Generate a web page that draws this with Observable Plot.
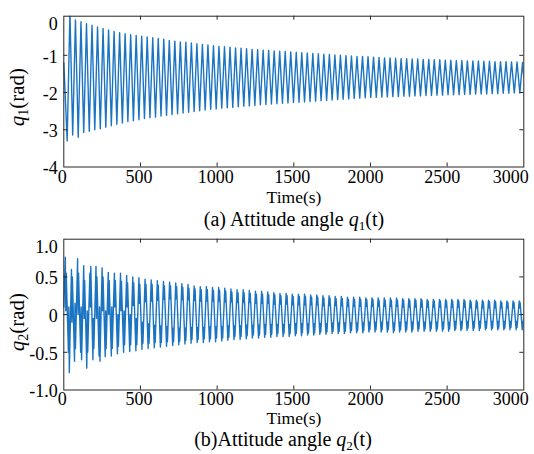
<!DOCTYPE html>
<html><head><meta charset="utf-8">
<script src="https://cdn.jsdelivr.net/npm/d3@7"></script>
<script src="https://cdn.jsdelivr.net/npm/@observablehq/plot@0.6"></script>
<style>
html,body{margin:0;background:#fff;}
#wrap{position:relative;width:534px;height:454px;overflow:hidden;background:#fff;}
</style></head><body><div id="wrap"></div>
<script>
// ---------- data ----------
const xTicks = [0,500,1000,1500,2000,2500,3000];
const xTickLabels = ["0","500","1000","1500","2000","2500","3000"];
const q1Ticks = [0,-1,-2,-3,-4];
const q1TickLabels = ["0","-1","-2","-3","-4"];
const q2Ticks = [1,0.5,0,-0.5,-1];
const q2TickLabels = ["1.0","0.5","0","-0.5","-1.0"];
const xLabel = "Time(s)";
const captionA = [["(a) Attitude angle ",""],["q","i"],["1","sub"],["(t)","back"]];
const captionB = [["(b)Attitude angle ",""],["q","i"],["2","sub"],["(t)","back"]];
const yLabelA = [["q","i"],["1","sub"],["(rad)","back"]];
const yLabelB = [["q","i"],["2","sub"],["(rad)","back"]];

// q1(t): turning points of the oscillation
const q1EndTime = [0,3000];
const q1EndValue = [-1.2,-1.6];
const q1PeakTime = [40,76,112,148,184,220,256,292,328,364,400,436,472,508,544,580,616,652,688,724,760,796,832,868,904,940,976,1012,1048,1084,1120,1156,1192,1228,1264,1300,1336,1372,1408,1444,1480,1516,1552,1588,1624,1660,1696,1732,1768,1804,1840,1876,1912,1948,1984,2020,2056,2092,2128,2164,2200,2236,2272,2308,2344,2380,2416,2452,2488,2524,2560,2596,2632,2668,2704,2740,2776,2812,2848,2884,2920,2956,2992];
const q1PeakValue = [0.15,-0.05,-0.1,-0.15,-0.19,-0.24,-0.28,-0.32,-0.36,-0.39,
-0.42,-0.45,-0.47,-0.49,-0.51,-0.53,-0.55,-0.57,-0.6,-0.62,
-0.64,-0.65,-0.67,-0.69,-0.71,-0.72,-0.74,-0.76,-0.77,-0.78,
-0.8,-0.81,-0.82,-0.84,-0.85,-0.86,-0.87,-0.88,-0.89,-0.9,
-0.91,-0.92,-0.93,-0.94,-0.95,-0.96,-0.97,-0.98,-0.99,-1.0,
-1.01,-1.02,-1.03,-1.03,-1.04,-1.05,-1.06,-1.07,-1.07,-1.08,
-1.09,-1.09,-1.1,-1.1,-1.11,-1.11,-1.12,-1.12,-1.13,-1.13,
-1.14,-1.14,-1.15,-1.15,-1.15,-1.16,-1.16,-1.17,-1.17,-1.17,
-1.18,-1.18,-1.19];
const q1TroughTime = [22,58,94,130,166,202,238,274,310,346,382,418,454,490,526,562,598,634,670,706,742,778,814,850,886,922,958,994,1030,1066,1102,1138,1174,1210,1246,1282,1318,1354,1390,1426,1462,1498,1534,1570,1606,1642,1678,1714,1750,1786,1822,1858,1894,1930,1966,2002,2038,2074,2110,2146,2182,2218,2254,2290,2326,2362,2398,2434,2470,2506,2542,2578,2614,2650,2686,2722,2758,2794,2830,2866,2902,2938,2974];
const q1TroughValue = [-3.3,-3.14,-3.2,-3.07,-3.04,-3.0,-2.97,-2.93,-2.89,-2.85,
-2.82,-2.78,-2.76,-2.73,-2.7,-2.68,-2.66,-2.63,-2.61,-2.59,
-2.57,-2.55,-2.53,-2.51,-2.49,-2.47,-2.45,-2.44,-2.42,-2.41,
-2.4,-2.38,-2.37,-2.36,-2.35,-2.33,-2.32,-2.31,-2.3,-2.29,
-2.28,-2.27,-2.26,-2.25,-2.24,-2.23,-2.22,-2.21,-2.2,-2.19,
-2.18,-2.17,-2.16,-2.15,-2.14,-2.13,-2.13,-2.12,-2.12,-2.11,
-2.11,-2.1,-2.1,-2.09,-2.09,-2.08,-2.08,-2.07,-2.07,-2.06,
-2.06,-2.06,-2.05,-2.05,-2.04,-2.04,-2.04,-2.03,-2.03,-2.02,
-2.02,-2.01,-2.01];

// q2(t): turning points (double-topped peaks and troughs)
const q2Time = [0,
10,13,16,30,33,36, 50,53,56,70,73,76, 90,93,96,110,113,116, 130,133,136,150,153,156,
170,173,176,190,193,196, 210,213,216,230,233,236, 250,253,256,270,273,276, 290,293,296,310,313,316,
330,333,336,350,353,356, 370,373,376,390,393,396, 410,413,416,430,433,436, 450,453,456,470,473,476,
490,493,496,510,513,516, 530,533,536,550,553,556, 570,573,576,590,593,596, 610,613,616,630,633,636,
650,653,656,670,673,676, 690,693,696,710,713,716, 730,733,736,750,753,756, 770,773,776,790,793,796,
810,813,816,830,833,836, 850,853,856,870,873,876, 890,893,896,910,913,916, 930,933,936,950,953,956,
970,973,976,990,993,996, 1010,1013,1016,1030,1033,1036, 1050,1053,1056,1070,1073,1076, 1090,1093,1096,1110,1113,1116,
1130,1133,1136,1150,1153,1156, 1170,1173,1176,1190,1193,1196, 1210,1213,1216,1230,1233,1236, 1250,1253,1256,1270,1273,1276,
1290,1293,1296,1310,1313,1316, 1330,1333,1336,1350,1353,1356, 1370,1373,1376,1390,1393,1396, 1410,1413,1416,1430,1433,1436,
1450,1453,1456,1470,1473,1476, 1490,1493,1496,1510,1513,1516, 1530,1533,1536,1550,1553,1556, 1570,1573,1576,1590,1593,1596,
1610,1613,1616,1630,1633,1636, 1650,1653,1656,1670,1673,1676, 1690,1693,1696,1710,1713,1716, 1730,1733,1736,1750,1753,1756,
1770,1773,1776,1790,1793,1796, 1810,1813,1816,1830,1833,1836, 1850,1853,1856,1870,1873,1876, 1890,1893,1896,1910,1913,1916,
1930,1933,1936,1950,1953,1956, 1970,1973,1976,1990,1993,1996, 2010,2013,2016,2030,2033,2036, 2050,2053,2056,2070,2073,2076,
2090,2093,2096,2110,2113,2116, 2130,2133,2136,2150,2153,2156, 2170,2173,2176,2190,2193,2196, 2210,2213,2216,2230,2233,2236,
2250,2253,2256,2270,2273,2276, 2290,2293,2296,2310,2313,2316, 2330,2333,2336,2350,2353,2356, 2370,2373,2376,2390,2393,2396,
2410,2413,2416,2430,2433,2436, 2450,2453,2456,2470,2473,2476, 2490,2493,2496,2510,2513,2516, 2530,2533,2536,2550,2553,2556,
2570,2573,2576,2590,2593,2596, 2610,2613,2616,2630,2633,2636, 2650,2653,2656,2670,2673,2676, 2690,2693,2696,2710,2713,2716,
2730,2733,2736,2750,2753,2756, 2770,2773,2776,2790,2793,2796, 2810,2813,2816,2830,2833,2836, 2850,2853,2856,2870,2873,2876,
2890,2893,2896,2910,2913,2916, 2930,2933,2936,2950,2953,2956, 2970,2973,2976,2990,2993,2996,
3000];
const q2Value = [0.1,
0.76,0.05,0.55,-0.5,0.1,-0.77, 0.6,-0.1,0.5,-0.62,0.15,-0.45, 0.74,0.0,0.55,-0.5,0.1,-0.6, 0.65,-0.05,0.45,-0.71,0.05,-0.5,
0.55,0.1,0.64,-0.6,-0.05,-0.45, 0.64,-0.05,0.5,-0.55,0.1,-0.62, 0.62,0.05,0.5,-0.56,0.05,-0.45, 0.56,0.0,0.45,-0.55,0.1,-0.45,
0.55,0.1,0.45,-0.52,0.0,-0.42, 0.55,0.05,0.44,-0.5,0.05,-0.4, 0.52,0.1,0.42,-0.49,0.0,-0.4, 0.5,0.12,0.42,-0.48,-0.05,-0.4,
0.49,0.15,0.4,-0.46,-0.1,-0.38, 0.47,0.17,0.4,-0.45,-0.12,-0.38, 0.46,0.18,0.4,-0.44,-0.14,-0.37, 0.45,0.19,0.39,-0.43,-0.15,-0.37,
0.44,0.2,0.38,-0.42,-0.16,-0.36, 0.43,0.21,0.38,-0.41,-0.18,-0.36, 0.42,0.21,0.37,-0.4,-0.18,-0.35, 0.41,0.2,0.36,-0.39,-0.18,-0.34,
0.4,0.2,0.35,-0.38,-0.17,-0.33, 0.38,0.19,0.34,-0.37,-0.17,-0.33, 0.37,0.18,0.33,-0.37,-0.17,-0.32, 0.37,0.18,0.33,-0.36,-0.16,-0.32,
0.36,0.18,0.32,-0.36,-0.16,-0.31, 0.36,0.18,0.32,-0.35,-0.16,-0.31, 0.35,0.17,0.31,-0.34,-0.15,-0.3, 0.34,0.17,0.3,-0.33,-0.15,-0.29,
0.33,0.16,0.29,-0.33,-0.15,-0.29, 0.33,0.16,0.29,-0.32,-0.14,-0.28, 0.32,0.16,0.28,-0.31,-0.14,-0.27, 0.31,0.15,0.27,-0.31,-0.14,-0.27,
0.31,0.15,0.27,-0.3,-0.13,-0.26, 0.3,0.15,0.26,-0.3,-0.13,-0.26, 0.29,0.14,0.26,-0.29,-0.13,-0.25, 0.28,0.14,0.25,-0.29,-0.13,-0.25,
0.28,0.14,0.25,-0.29,-0.13,-0.25, 0.27,0.13,0.24,-0.28,-0.12,-0.25, 0.27,0.13,0.24,-0.28,-0.12,-0.24, 0.27,0.13,0.24,-0.27,-0.12,-0.24,
0.26,0.13,0.23,-0.27,-0.12,-0.24, 0.26,0.13,0.23,-0.26,-0.12,-0.23, 0.25,0.12,0.22,-0.26,-0.12,-0.23, 0.25,0.12,0.22,-0.25,-0.11,-0.22,
0.24,0.12,0.21,-0.25,-0.11,-0.22, 0.24,0.12,0.21,-0.25,-0.11,-0.22, 0.23,0.11,0.2,-0.24,-0.11,-0.21, 0.23,0.11,0.2,-0.24,-0.11,-0.21,
0.23,0.11,0.2,-0.24,-0.11,-0.21, 0.22,0.11,0.2,-0.23,-0.1,-0.2, 0.22,0.11,0.2,-0.23,-0.1,-0.2, 0.22,0.11,0.19,-0.23,-0.1,-0.2,
0.22,0.11,0.19,-0.23,-0.1,-0.2, 0.22,0.11,0.19,-0.24,-0.11,-0.21, 0.22,0.11,0.19,-0.23,-0.1,-0.2, 0.21,0.1,0.19,-0.23,-0.1,-0.2,
0.21,0.1,0.19,-0.23,-0.1,-0.2, 0.21,0.1,0.19,-0.22,-0.1,-0.19, 0.21,0.1,0.19,-0.22,-0.1,-0.19, 0.2,0.1,0.18,-0.22,-0.1,-0.19,
0.2,0.1,0.18,-0.22,-0.1,-0.19, 0.2,0.1,0.18,-0.22,-0.1,-0.19, 0.2,0.1,0.18,-0.22,-0.1,-0.19, 0.2,0.1,0.18,-0.21,-0.09,-0.19,
0.2,0.1,0.18,-0.21,-0.09,-0.19, 0.2,0.1,0.18,-0.21,-0.09,-0.18, 0.19,0.09,0.17,-0.21,-0.09,-0.18, 0.19,0.09,0.17,-0.21,-0.09,-0.18,
0.19,0.09,0.17,-0.2,-0.09,-0.18, 0.19,0.09,0.17,-0.2,-0.09,-0.18, 0.19,0.09,0.17,-0.2,-0.09,-0.18, 0.18,0.09,0.16,-0.2,-0.09,-0.18,
0.18,0.09,0.16,-0.2,-0.09,-0.17, 0.18,0.09,0.16,-0.2,-0.09,-0.17, 0.18,0.09,0.16,-0.2,-0.09,-0.17,
0.0];

// ---------- build tables ----------
function table(ts, vs){ const n=Math.min(ts.length,vs.length); const out=[]; for(let i=0;i<n;i++) out.push({t:ts[i], v:vs[i]}); return out; }
const q1Data = [...table(q1EndTime,q1EndValue), ...table(q1PeakTime,q1PeakValue), ...table(q1TroughTime,q1TroughValue)].sort((a,b)=>a.t-b.t);
const q2Data = table(q2Time, q2Value);

// ---------- chart ----------
const lineColor = "#1a74c2";
const axisColor = "#262626";
const W=534, H=190, ML=63.3, MR=10.7, MT=15.7, MB=23.5;
const frameW = W-ML-MR, frameH = H-MT-MB, tickLen = 4;
const font = "'Liberation Serif', 'Times New Roman', serif";

function fmt(ticks, labels){ return d => labels[ticks.indexOf(d)]; }

function panel(data, yDomain, yTicks, yLabels, topDy, xPad, zero){
  const fx = fmt(xTicks, xTickLabels), fy = fmt(yTicks, yLabels);
  const ax = {tickSize:0, label:null, fontSize:18, fontFamily:font};
  return Plot.plot({
    width:W, height:H, marginLeft:ML, marginRight:MR, marginTop:MT, marginBottom:MB,
    style:{background:"transparent", overflow:"visible"},
    x:{domain:[xTicks[0], xTicks[xTicks.length-1]], label:null},
    y:{domain:yDomain, label:null},
    marks:[
      zero ? Plot.ruleY([0], {stroke:lineColor, strokeOpacity:0.3}) : null,
      Plot.line(data, {x:"t", y:"v", stroke:lineColor, strokeWidth:1.4, clip:true}),
      Plot.frame({stroke:axisColor}),
      Plot.tickX(xTicks.slice(1,-1), {x:d=>d, insetTop:frameH-tickLen, stroke:axisColor}),
      Plot.tickX(xTicks.slice(1,-1), {x:d=>d, insetBottom:frameH-tickLen, stroke:axisColor}),
      Plot.tickY(yTicks.slice(1,-1), {y:d=>d, insetRight:frameW-tickLen, stroke:axisColor}),
      Plot.tickY(yTicks.slice(1,-1), {y:d=>d, insetLeft:frameW-tickLen, stroke:axisColor}),
      Plot.axisX(xTicks.slice(0,4), {...ax, tickPadding:xPad, tickFormat:fx, dx:-1.5}),
      Plot.axisX(xTicks.slice(4,6), {...ax, tickPadding:xPad, tickFormat:fx, dx:-5}),
      Plot.axisX(xTicks.slice(6), {...ax, tickPadding:xPad, tickFormat:fx, dx:-13}),
      Plot.axisY(yTicks.slice(1), {...ax, tickPadding:6, tickFormat:fy, dy:1.5}),
      Plot.axisY(yTicks.slice(0,1), {...ax, tickPadding:6, tickFormat:fy, dy:topDy})
    ]
  });
}

const wrap = document.getElementById("wrap");
const p1 = panel(q1Data, [-4, 0.05], q1Ticks, q1TickLabels, 6.5, 3, false);
const p2 = panel(q2Data, [-1, 1], q2Ticks, q2TickLabels, 8, 2, true);
[[p1,0],[p2,223]].forEach(([svg,top])=>{
  const s = d3.select(svg);
  s.attr("font-family", font).style("font-family", font);
  s.selectAll("g, text").attr("font-family", font).style("font-family", font, "important");
  svg.style.position="absolute"; svg.style.left="0px"; svg.style.top=top+"px";
  svg.style.color="#000";
  wrap.appendChild(svg);
});

// ---------- texts ----------
const ov = d3.select(wrap).append("svg")
  .attr("width",534).attr("height",454)
  .style("position","absolute").style("left","0px").style("top","0px")
  .attr("font-family",font).attr("fill","#000");

function rich(x, y, size, parts, rotate){
  const t = ov.append("text").attr("font-size",size).attr("text-anchor","middle")
    .attr("transform", `translate(${x},${y})` + (rotate ? " rotate(-90)" : ""));
  parts.forEach(([s,k])=>{
    const ts = t.append("tspan").text(s);
    if(k==="i") ts.attr("font-style","italic");
    if(k==="sub") ts.attr("font-size", size*0.66).attr("dy", size*0.2);
    if(k==="back") ts.attr("dy", -size*0.2);
  });
}
rich(294, 203, 17.5, [[xLabel,""]]);
rich(294, 225.5, 20, captionA);
rich(294, 424.3, 17.5, [[xLabel,""]]);
rich(283, 446, 20, captionB);
rich(24, 97, 21, yLabelA, true);
rich(24, 322, 21, yLabelB, true);
</script>
</body></html>
